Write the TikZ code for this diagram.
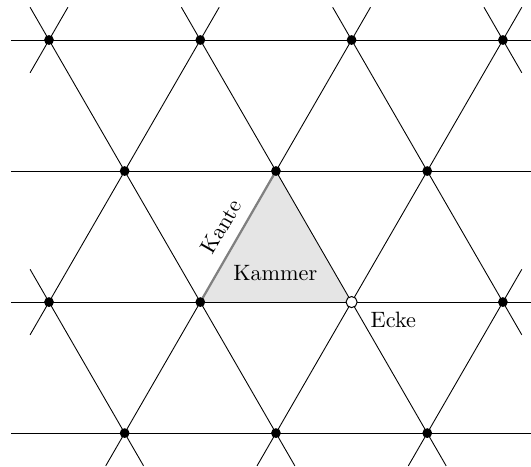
\documentclass[tikz,border=0pt]{standalone}
\usetikzlibrary{calc}
\begin{document}
\begin{tikzpicture}[x=0.45pt,y=0.45pt,
  lat/.style={line width=0.4pt,black},
  dot/.style={circle,fill=black,inner sep=0pt,minimum size=4.4pt},
  odot/.style={circle,fill=white,draw=black,line width=0.45pt,inner sep=0pt,minimum size=5pt},
  kante/.style={line width=1pt,black!50},
  lbl/.style={font=\normalsize}]
\useasboundingbox (0,0) rectangle (531,-466);
% lattice vertices
\coordinate (a1) at (49,-40);
\coordinate (a2) at (200.3,-40);
\coordinate (a3) at (351.6,-40);
\coordinate (a4) at (502.9,-40);
\coordinate (b1) at (124.65,-171.03);
\coordinate (b2) at (275.95,-171.03);
\coordinate (b3) at (427.25,-171.03);
\coordinate (c1) at (49,-302.06);
\coordinate (c2) at (200.3,-302.06);
\coordinate (c3) at (351.6,-302.06);
\coordinate (c4) at (502.9,-302.06);
\coordinate (d1) at (124.65,-433.09);
\coordinate (d2) at (275.95,-433.09);
\coordinate (d3) at (427.25,-433.09);
% ends of the horizontal lines
\coordinate (la) at (11.2,-40);      \coordinate (ra) at (531,-40);
\coordinate (lb) at (11.2,-171.03);  \coordinate (rb) at (531,-171.03);
\coordinate (lc) at (11.2,-302.06);  \coordinate (rc) at (531,-302.06);
\coordinate (ld) at (11.2,-433.09);  \coordinate (rd) at (531,-433.09);
% chamber
\fill[black!10] (c2) -- (b2) -- (c3) -- cycle;
% horizontal lines
\draw[lat] (la) -- (ra);
\draw[lat] (lb) -- (rb);
\draw[lat] (lc) -- (rc);
\draw[lat] (ld) -- (rd);
% lines going up to the right
\draw[lat] ($(a1)+(-18.91,-32.76)$) -- ($(a1)+(18.91,32.76)$);
\draw[lat] ($(c1)!-0.25!(b1)$) -- (c1) -- (b1) -- (a2) -- ($(a2)!-0.25!(b1)$);
\draw[lat] ($(d1)!-0.25!(c2)$) -- (d1) -- (c2) -- (b2) -- (a3) -- ($(a3)!-0.25!(b2)$);
\draw[lat] ($(d2)!-0.25!(c3)$) -- (d2) -- (c3) -- (b3) -- (a4) -- ($(a4)!-0.25!(b3)$);
\draw[lat] ($(d3)!-0.25!(c4)$) -- (d3) -- (c4) -- ($(c4)!-0.25!(d3)$);
% lines going down to the right
\draw[lat] ($(a4)+(-18.91,32.76)$) -- ($(a4)+(18.91,-32.76)$);
\draw[lat] ($(a3)!-0.25!(b3)$) -- (a3) -- (b3) -- (c4) -- ($(c4)!-0.25!(b3)$);
\draw[lat] ($(a2)!-0.25!(b2)$) -- (a2) -- (b2) -- (c3) -- (d3) -- ($(d3)!-0.25!(c3)$);
\draw[lat] ($(a1)!-0.25!(b1)$) -- (a1) -- (b1) -- (c2) -- (d2) -- ($(d2)!-0.25!(c2)$);
\draw[lat] ($(c1)!-0.25!(d1)$) -- (c1) -- (d1) -- ($(d1)!-0.25!(c1)$);
% edge "Kante"
\draw[kante] (c2) -- node[lbl,sloped,above=1.5pt,black] {Kante} (b2);
% dots
\foreach \p in {a1,a2,a3,a4,b1,b2,b3,c1,c2,c4,d1,d2,d3}
  \node[dot] (n\p) at (\p) {};
\node[odot] (nc3) at (c3) {};
% labels
\node[lbl] (kammer) at (275.3,-273) {Kammer};
\node[lbl] (ecke) at (393.3,-319.9) {Ecke};
\end{tikzpicture}
\end{document}
